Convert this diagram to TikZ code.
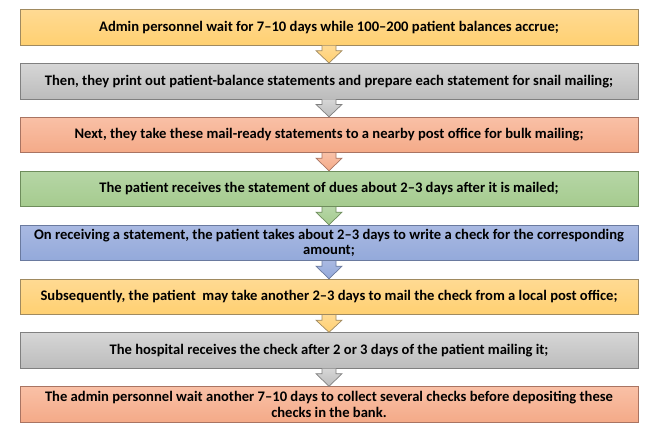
\documentclass[tikz,border=0pt]{standalone}
\usepackage{fontspec}
\setmainfont{Carlito}
\usetikzlibrary{calc}
\definecolor{yTop}{HTML}{FFDA93}\definecolor{yBot}{HTML}{FFD071}\definecolor{yLine}{HTML}{A08A60}
\definecolor{gTop}{HTML}{D6D6D6}\definecolor{gBot}{HTML}{BCBCBC}\definecolor{gLine}{HTML}{808080}
\definecolor{oTop}{HTML}{F9C0A6}\definecolor{oBot}{HTML}{F4AA88}\definecolor{oLine}{HTML}{A97462}
\definecolor{nTop}{HTML}{B6D6A6}\definecolor{nBot}{HTML}{A5CB8E}\definecolor{nLine}{HTML}{6E8D5C}
\definecolor{bTop}{HTML}{A9B9E2}\definecolor{bBot}{HTML}{93A9DA}\definecolor{bLine}{HTML}{6A7A9F}
\tikzset{
  x=1pt, y=-1pt,
  stepbox/.style={minimum width=618pt, minimum height=35.5pt, inner sep=0pt, align=center,
    font=\fontsize{14.6pt}{15.5pt}\selectfont\bfseries, line width=0.9pt},
  yel/.style={top color=yTop, bottom color=yBot, draw=yLine},
  gry/.style={top color=gTop, bottom color=gBot, draw=gLine},
  org/.style={top color=oTop, bottom color=oBot, draw=oLine},
  grn/.style={top color=nTop, bottom color=nBot, draw=nLine},
  blu/.style={top color=bTop, bottom color=bBot, draw=bLine},
  blockarrow/.style={line width=0.7pt, line join=miter},
}
\newcommand{\blockarr}[3]{%
  \draw[blockarrow,#3] ($(#1.south)+(-7,0)$) -- ($(#1.south)+(-7,5)$) -- ($(#1.south)+(-13,5)$)
    -- (#2.north) -- ($(#1.south)+(13,5)$) -- ($(#1.south)+(7,5)$) -- ($(#1.south)+(7,0)$);}
\begin{document}
\begin{tikzpicture}
\useasboundingbox[fill=white] (0,0) rectangle (655,436);
\node[stepbox,yel] (b1) at (329,27.5) {Admin personnel wait for 7–10 days while 100–200 patient balances accrue;};
\node[stepbox,gry] (b2) at (329,81.2) {Then, they print out patient-balance statements and prepare each statement for snail mailing;};
\node[stepbox,org] (b3) at (329,135) {Next, they take these mail-ready statements to a nearby post office for bulk mailing;};
\node[stepbox,grn] (b4) at (329,189) {The patient receives the statement of dues about 2–3 days after it is mailed;};
\node[stepbox,blu] (b5) at (329,243) {On receiving a statement, the patient takes about 2–3 days to write a check for the corresponding\\amount;};
\node[stepbox,yel] (b6) at (329,297) {Subsequently, the patient\ \ may take another 2–3 days to mail the check from a local post office;};
\node[stepbox,gry] (b7) at (329,350.5) {The hospital receives the check after 2 or 3 days of the patient mailing it;};
\node[stepbox,org] (b8) at (329,404.5) {The admin personnel wait another 7–10 days to collect several checks before depositing these\\checks in the bank.};
\blockarr{b1}{b2}{yel}
\blockarr{b2}{b3}{gry}
\blockarr{b3}{b4}{org}
\blockarr{b4}{b5}{grn}
\blockarr{b5}{b6}{blu}
\blockarr{b6}{b7}{yel}
\blockarr{b7}{b8}{gry}
\end{tikzpicture}
\end{document}
